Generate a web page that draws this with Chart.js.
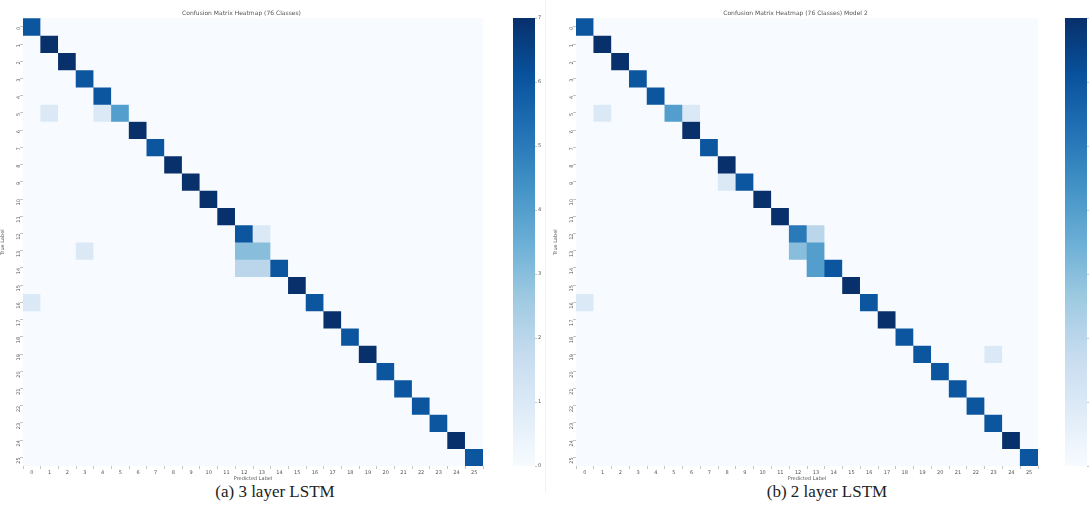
<!DOCTYPE html>
<html>
<head>
<meta charset="utf-8">
<script src="https://cdn.jsdelivr.net/npm/chart.js@4.4.1/dist/chart.umd.min.js"></script>
<style>
  body { margin: 0; background: #fff; width: 1089px; height: 506px; overflow: hidden; position: relative; }
  .box { position: absolute; top: 0; height: 482px; }
  .cap { position: absolute; top: 482px; width: 300px; text-align: center; font-family: "Liberation Serif", serif; font-size: 17px; color: #222; }
  .sep { position: absolute; top: 0; width: 1px; height: 492px; background: #f7f3df; }
</style>
</head>
<body>
<div class="box" style="left:0;width:488px"><canvas id="heatA"></canvas></div>
<div class="box" style="left:505px;width:40px"><canvas id="barA"></canvas></div>
<div class="sep" style="left:545px"></div>
<div class="box" style="left:553px;width:490px"><canvas id="heatB"></canvas></div>
<div class="box" style="left:1057px;width:40px"><canvas id="barB"></canvas></div>
<div class="cap" style="left:125px">(a) 3 layer LSTM</div>
<div class="cap" style="left:677px">(b) 2 layer LSTM</div>

<script>
const classes = ['0','1','2','3','4','5','6','7','8','9','10','11','12','13','14','15','16','17','18','19','20','21','22','23','24','25'];

// model (a) 3 layer LSTM
const diagA = [6,7,7,6,6,4,7,6,7,7,7,7,6,3,6,7,6,7,6,7,6,6,6,6,7,6];
const offA = [[5,1,1],[5,4,1],[12,13,1],[13,3,1],[13,12,3],[14,12,2],[14,13,2],[16,0,1]]; // [true, predicted, count]

// model (b) 2 layer LSTM
const diagB = [6,7,7,6,6,4,7,6,7,6,7,7,5,4,6,7,6,7,6,6,6,6,6,6,7,6];
const offB = [[5,1,1],[5,6,1],[9,8,1],[12,13,2],[13,12,3],[14,13,4],[16,0,1],[19,23,1]];

const cbTicks = [0,1,2,3,4,5,6,7];
const vmax = 7;

const FONT = 'DejaVu Sans';
const blueStops = ['#f7fbff','#deebf7','#c6dbef','#9ecae1','#6baed6','#4292c6','#2171b5','#08519c','#08306b'];

function hex(c) { return [1,3,5].map(i => parseInt(c.substr(i,2),16)); }

function blues(v) {
  let t = Math.max(0, Math.min(1, v / vmax)) * (blueStops.length - 1);
  let i = Math.min(Math.floor(t), blueStops.length - 2);
  let f = t - i;
  let a = hex(blueStops[i]), b = hex(blueStops[i+1]);
  let r = a.map((x, k) => Math.round(x + (b[k] - x) * f));
  return `rgb(${r[0]},${r[1]},${r[2]})`;
}

function buildMatrix(diag, off) {
  const m = classes.map((_, i) => classes.map((_, j) => (i === j ? diag[i] : 0)));
  off.forEach(([r, c, v]) => { m[r][c] = v; });
  return m;
}

function heatmap(id, title, diag, off) {
  const m = buildMatrix(diag, off);
  // one stacked dataset per true-label row, one bar per predicted label
  const datasets = m.map((row, i) => ({
    label: 'True ' + classes[i],
    data: classes.map(() => 1),
    backgroundColor: row.map(blues),
    borderWidth: 0,
    barPercentage: 1,
    categoryPercentage: 1
  }));
  new Chart(document.getElementById(id), {
    type: 'bar',
    data: { labels: classes, datasets: datasets },
    options: {
      responsive: true,
      maintainAspectRatio: false,
      animation: false,
      layout: { padding: { right: 5 } },
      plugins: {
        legend: { display: false },
        tooltip: { enabled: false },
        title: { display: true, text: title, color: '#555', font: { size: 6, family: FONT, weight: 'normal' }, padding: { top: 10, bottom: 1 } }
      },
      scales: {
        x: {
          stacked: true,
          grid: { drawOnChartArea: false, drawTicks: true, tickLength: 3, color: '#888', lineWidth: 0.5 },
          border: { display: false },
          ticks: { font: { size: 5, family: FONT }, color: '#555', maxRotation: 0, autoSkip: false, padding: 1 },
          title: { display: true, text: 'Predicted Label', font: { size: 5, family: FONT }, color: '#555', padding: 0 },
          afterFit: s => { s.height = 16; }
        },
        y: {
          type: 'linear',
          stacked: true,
          reverse: true,
          min: 0,
          max: classes.length,
          grid: { drawOnChartArea: false, drawTicks: true, tickLength: 3, color: '#888', lineWidth: 0.5 },
          border: { display: false },
          afterBuildTicks: s => { s.ticks = classes.map((c, i) => ({ value: i + 0.5 })); },
          ticks: { callback: v => classes[Math.floor(v)], font: { size: 5, family: FONT }, color: '#555', minRotation: 90, maxRotation: 90, padding: 1 },
          title: { display: true, text: 'True Label', font: { size: 5, family: FONT }, color: '#555', padding: 0 },
          afterFit: s => { s.width = 23; }
        }
      }
    }
  });
}

function colorbar(id) {
  new Chart(document.getElementById(id), {
    type: 'bar',
    data: {
      labels: ['count'],
      datasets: [{
        data: [[0, vmax]],
        backgroundColor: ctx => {
          const area = ctx.chart.chartArea;
          if (!area) return blueStops[4];
          const g = ctx.chart.ctx.createLinearGradient(0, area.bottom, 0, area.top);
          blueStops.forEach((c, i) => g.addColorStop(i / (blueStops.length - 1), c));
          return g;
        },
        borderWidth: 0,
        barPercentage: 1,
        categoryPercentage: 1
      }]
    },
    options: {
      responsive: true,
      maintainAspectRatio: false,
      animation: false,
      layout: { padding: { top: 18, bottom: 16, left: 8 } },
      plugins: { legend: { display: false }, tooltip: { enabled: false } },
      scales: {
        x: { display: false },
        y: {
          position: 'right',
          min: 0,
          max: vmax,
          afterBuildTicks: s => { s.ticks = cbTicks.map(v => ({ value: v })); },
          grid: { drawOnChartArea: false, drawTicks: true, tickLength: 2, color: '#888', lineWidth: 0.5 },
          border: { display: false },
          ticks: { font: { size: 5, family: FONT }, color: '#555', padding: 1 },
          afterFit: s => { s.width = 10; }
        }
      }
    }
  });
}

heatmap('heatA', 'Confusion Matrix Heatmap (76 Classes)', diagA, offA);
colorbar('barA');
heatmap('heatB', 'Confusion Matrix Heatmap (76 Classes) Model 2', diagB, offB);
colorbar('barB');
</script>
</body>
</html>
